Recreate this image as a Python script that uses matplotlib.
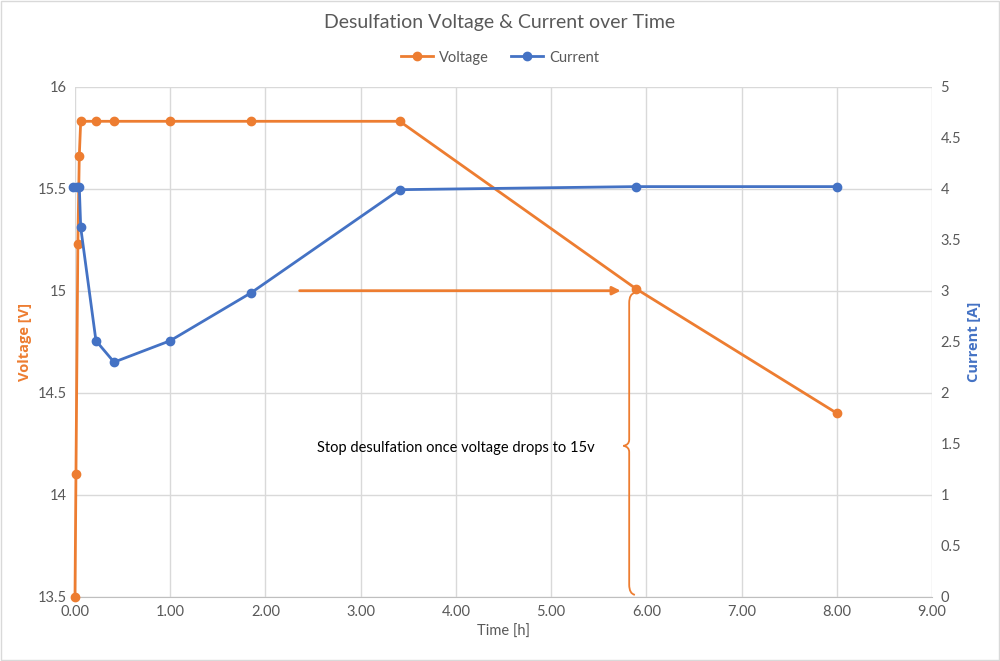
import matplotlib.pyplot as plt
from matplotlib.path import Path
from matplotlib.patches import PathPatch

plt.rcParams['font.family'] = ['Lato', 'DejaVu Sans']

# data
time_v = [0.0, 0.01, 0.03, 0.045, 0.06, 0.22, 0.41, 1.0, 1.85, 3.41, 5.89, 8.0]
voltage = [13.5, 14.1, 15.23, 15.66, 15.83, 15.83, 15.83, 15.83, 15.83, 15.83, 15.01, 14.4]
time_i = [-0.02, 0.02, 0.045, 0.06, 0.22, 0.41, 1.0, 1.85, 3.41, 5.89, 8.0]
current = [4.02, 4.02, 4.02, 3.62, 2.51, 2.30, 2.51, 2.98, 3.99, 4.02, 4.02]

x_ticks = [0, 1, 2, 3, 4, 5, 6, 7, 8, 9]
v_ticks = [13.5, 14, 14.5, 15, 15.5, 16]
i_ticks = [0, 0.5, 1, 1.5, 2, 2.5, 3, 3.5, 4, 4.5, 5]

orange = '#ED7D31'
blue = '#4472C4'
grey = '#595959'
gridc = '#D9D9D9'

fig = plt.figure(figsize=(10, 6.61), dpi=100)
ax = fig.add_axes([0.075, 0.097, 0.857, 0.772])
ax2 = ax.twinx()

ax.plot(time_v, voltage, color=orange, lw=2, marker='o', ms=6, label='Voltage', zorder=3, clip_on=False)
ax2.plot(time_i, current, color=blue, lw=2, marker='o', ms=6, label='Current', zorder=3, clip_on=False)

ax.set_xlim(0, 9)
ax.set_ylim(13.5, 16)
ax2.set_ylim(0, 5)
ax.set_xticks(x_ticks)
ax.set_xticklabels(['%.2f' % t for t in x_ticks])
ax.set_yticks(v_ticks)
ax.set_yticklabels([('%g' % v) for v in v_ticks])
ax2.set_yticks(i_ticks)
ax2.set_yticklabels([('%g' % v) for v in i_ticks])

ax.grid(True, color=gridc, lw=1)
ax.set_axisbelow(True)
for a in (ax, ax2):
    for s in a.spines.values():
        s.set_visible(False)
    a.tick_params(length=0, labelsize=10.5, colors=grey, pad=6)
ax.spines['bottom'].set_visible(True)
ax.spines['bottom'].set_color('#BFBFBF')

ax.set_xlabel('Time [h]', color=grey, fontsize=10.5)
ax.set_ylabel('Voltage [V]', color=orange, fontsize=10.5, fontweight='bold',
              family=['Open Sans', 'DejaVu Sans'])
ax2.set_ylabel('Current [A]', color=blue, fontsize=10.5, fontweight='bold',
               family=['Open Sans', 'DejaVu Sans'])

fig.text(0.5, 0.966, 'Desulfation Voltage & Current over Time', ha='center', va='center',
         fontsize=14, color=grey)
h1, l1 = ax.get_legend_handles_labels()
h2, l2 = ax2.get_legend_handles_labels()
fig.legend(h1 + h2, l1 + l2, loc='center', bbox_to_anchor=(0.5, 0.913), ncol=2,
           frameon=False, fontsize=10.5, labelcolor=grey, handlelength=2.2,
           handletextpad=0.4, columnspacing=1.5)

# annotation arrow and brace
ax.annotate('', xy=(5.76, 15.0), xytext=(2.33, 15.0),
            arrowprops=dict(arrowstyle='-|>', color=orange, lw=2, mutation_scale=12))
bx = 5.82
verts = [(bx + 0.06, 14.99), (bx, 14.985), (bx, 14.94), (bx, 14.77),
         (bx, 14.27), (bx, 14.245), (bx - 0.06, 14.24),
         (bx, 14.235), (bx, 14.21), (bx, 13.56),
         (bx, 13.515), (bx + 0.06, 13.51)]
codes = [Path.MOVETO, Path.CURVE3, Path.CURVE3, Path.LINETO,
         Path.LINETO, Path.CURVE3, Path.CURVE3,
         Path.CURVE3, Path.CURVE3, Path.LINETO,
         Path.CURVE3, Path.CURVE3]
ax.add_patch(PathPatch(Path(verts, codes), fill=False, edgecolor=orange, lw=1.3))
ax.text(4.0, 14.23, 'Stop desulfation once voltage drops to 15v', ha='center', va='center',
        fontsize=10.5, color='black')

fig.patches.append(plt.Rectangle((0.001, 0.001), 0.998, 0.998, transform=fig.transFigure,
                                 fill=False, edgecolor='#D9D9D9', lw=1))

fig.savefig('out.png', dpi=100)
